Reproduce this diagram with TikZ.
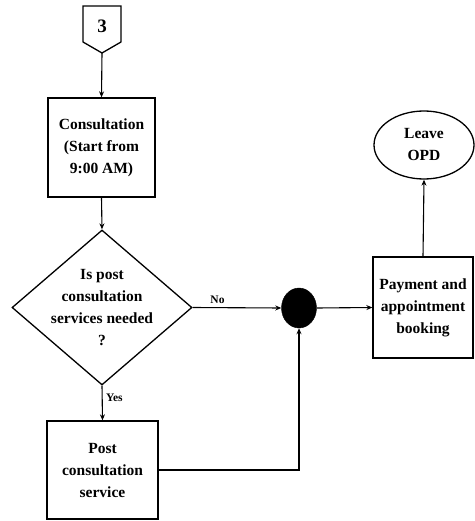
\documentclass[tikz,border=0pt]{standalone}
\usepackage{fontspec}
\setmainfont{Liberation Serif}
\usetikzlibrary{shapes.geometric,arrows.meta}
\begin{document}
\begin{tikzpicture}[x=1pt,y=-1pt,
  lbl/.style={font=\fontsize{15.5}{22}\selectfont\bfseries, align=center},
  procbox/.style={draw, line width=1.3pt, lbl, inner sep=0pt},
  decbox/.style={draw, line width=1.3pt, diamond, inner sep=0pt, aspect=1.16},
  termbox/.style={draw, line width=1.3pt, ellipse, lbl, inner sep=0pt},
  junction/.style={draw, fill=black, ellipse, inner sep=0pt, minimum width=35pt, minimum height=40pt},
  flow/.style={line width=1.1pt, -{Stealth[length=6pt,width=5pt]}},
  small/.style={font=\fontsize{11.5}{13}\selectfont\bfseries}
]
\useasboundingbox (0,0) rectangle (474,521);
% off-page connector
\draw[line width=1.3pt] (83,6) -- (121,6) -- (121,42) -- (102,53) -- (83,42) -- cycle;
\node[font=\fontsize{19}{22}\selectfont\bfseries] (c3) at (102,26) {3};
\coordinate (c3tip) at (102,53);
% nodes
\node[procbox, minimum width=107pt, minimum height=99pt] (cons) at (101.5,147.5) {Consultation\\(Start from\\9:00 AM)};
\node[decbox, minimum width=180pt, minimum height=155pt,
      label={[lbl]center:{Is post\\consultation\\services needed\\?}}] (dec) at (102,307.5) {};
\node[procbox, minimum width=111pt, minimum height=98pt] (post) at (102.5,470) {Post\\consultation\\service};
\node[junction] (join) at (299,308) {};
\node[procbox, minimum width=100pt, minimum height=101pt] (pay) at (423,307.5) {Payment and\\appointment\\booking};
\node[termbox, minimum width=100pt, minimum height=68pt] (leave) at (424,145) {Leave\\OPD};
% connectors
\draw[flow] (c3tip) -- (cons.north);
\draw[flow] (cons.south) -- (dec.north);
\draw[flow] (dec.east) -- node[small, above, pos=0.28] {No} (join.west);
\draw[flow] (dec.south) -- node[small, right, pos=0.35] {Yes} (post.north);
\draw[flow] (post.east) -| (join.south);
\draw[flow] (join.east) -- (pay.west);
\draw[flow] (pay.north) -- (leave.south);
\end{tikzpicture}
\end{document}
